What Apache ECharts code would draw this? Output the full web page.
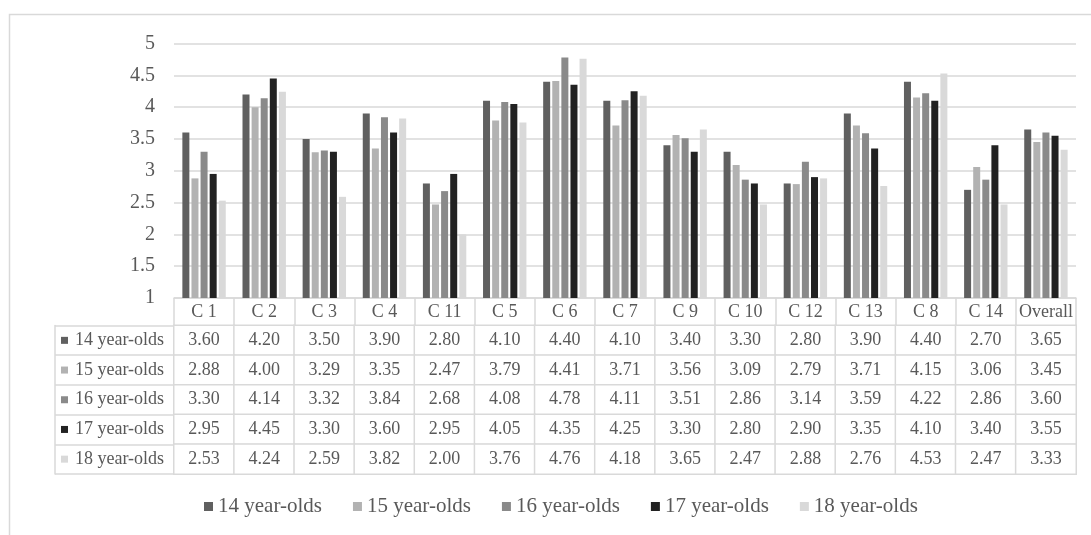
<!DOCTYPE html>
<html>
<head>
<meta charset="utf-8">
<script src="https://cdn.jsdelivr.net/npm/echarts@6/dist/echarts.min.js"></script>
<style>
html,body{margin:0;padding:0;background:#fff;}
#chart{width:1091px;height:535px;}
</style>
</head>
<body>
<div id="chart"></div>
<script>
const categories = ['C 1','C 2','C 3','C 4','C 11','C 5','C 6','C 7','C 9','C 10','C 12','C 13','C 8','C 14','Overall'];
const seriesNames = ['14 year-olds','15 year-olds','16 year-olds','17 year-olds','18 year-olds'];
const v14 = [3.60,4.20,3.50,3.90,2.80,4.10,4.40,4.10,3.40,3.30,2.80,3.90,4.40,2.70,3.65];
const v15 = [2.88,4.00,3.29,3.35,2.47,3.79,4.41,3.71,3.56,3.09,2.79,3.71,4.15,3.06,3.45];
const v16 = [3.30,4.14,3.32,3.84,2.68,4.08,4.78,4.11,3.51,2.86,3.14,3.59,4.22,2.86,3.60];
const v17 = [2.95,4.45,3.30,3.60,2.95,4.05,4.35,4.25,3.30,2.80,2.90,3.35,4.10,3.40,3.55];
const v18 = [2.53,4.24,2.59,3.82,2.00,3.76,4.76,4.18,3.65,2.47,2.88,2.76,4.53,2.47,3.33];
const yMin = 1, yMax = 5, yStep = 0.5;

const values = [v14, v15, v16, v17, v18];
const colors = ['#606060','#b2b2b2','#8a8a8a','#222222','#d9d9d9'];
const FONT = "'Liberation Serif','Times New Roman',serif";
const TXT = '#595959';
const LINE = '#d9d9d9';
const LW = 1.5;

const chart = echarts.init(document.getElementById('chart'), null, {renderer:'canvas'});

const barSeries = seriesNames.map((name, i) => ({
  name: name,
  type: 'bar',
  xAxisIndex: 0,
  yAxisIndex: 0,
  data: values[i],
  barWidth: 7,
  barGap: '30%',
  itemStyle: {color: colors[i]},
  emphasis: {disabled: true}
}));

const tableData = [];
values.forEach((arr, i) => arr.forEach((v, j) => tableData.push([j, i, v])));

const rich = {};
colors.forEach((c, i) => { rich['sq' + i] = {width: 7, height: 7, backgroundColor: c, verticalAlign: 'middle'}; });
rich.t = {fontFamily: FONT, fontSize: 18, color: TXT, padding: [0, 0, 0, 7], verticalAlign: 'middle'};

chart.setOption({
  animation: false,
  textStyle: {fontFamily: FONT},
  graphic: [{
    type: 'rect', z: -10, silent: true,
    shape: {x: 9.5, y: 14.5, width: 1200, height: 700},
    style: {fill: 'none', stroke: LINE, lineWidth: LW}
  }],
  legend: {
    data: seriesNames,
    left: 204, top: 496, padding: 0,
    icon: 'rect', itemWidth: 9, itemHeight: 9, itemGap: 31,
    textStyle: {fontFamily: FONT, fontSize: 21, color: TXT},
    selectedMode: false
  },
  grid: [
    {left: 174, width: 902, top: 43.5, height: 254.5},
    {left: 174, width: 902, top: 325.5, height: 148.5}
  ],
  xAxis: [
    {
      type: 'category', gridIndex: 0, data: categories,
      axisLine: {lineStyle: {color: LINE, width: LW}},
      axisTick: {show: true, length: 27, interval: 0, lineStyle: {color: LINE, width: LW}},
      axisLabel: {interval: 0, margin: 5, fontFamily: FONT, fontSize: 18, color: TXT}
    },
    {
      type: 'category', gridIndex: 1, data: categories,
      axisLine: {show: false}, axisTick: {show: false}, axisLabel: {show: false}
    }
  ],
  yAxis: [
    {
      type: 'value', gridIndex: 0, min: yMin, max: yMax, interval: yStep,
      axisLine: {show: false}, axisTick: {show: false},
      axisLabel: {margin: 19, fontFamily: FONT, fontSize: 20, color: TXT},
      splitLine: {lineStyle: {color: LINE, width: LW}}
    },
    {
      type: 'category', gridIndex: 1, data: seriesNames, inverse: true,
      axisLine: {show: true, lineStyle: {color: LINE, width: LW}},
      axisTick: {show: true, length: 119, lineStyle: {color: LINE, width: LW}},
      axisLabel: {
        margin: 113, align: 'left',
        formatter: (val, idx) => '{sq' + idx + '|}{t|' + val + '}',
        rich: rich
      }
    },
    {
      type: 'category', gridIndex: 1, data: seriesNames, inverse: true,
      position: 'left', offset: 119,
      axisLine: {show: true, lineStyle: {color: LINE, width: LW}},
      axisTick: {show: false}, axisLabel: {show: false}
    }
  ],
  visualMap: {
    show: false, seriesIndex: 5, min: 0, max: 10, dimension: 2,
    inRange: {color: ['#ffffff', '#ffffff']}
  },
  series: barSeries.concat([{
    type: 'heatmap',
    xAxisIndex: 1, yAxisIndex: 1,
    data: tableData,
    itemStyle: {borderColor: LINE, borderWidth: LW},
    label: {
      show: true,
      formatter: p => p.value[2].toFixed(2),
      fontFamily: FONT, fontSize: 18, color: TXT
    },
    emphasis: {disabled: true}
  }])
});
</script>
</body>
</html>
